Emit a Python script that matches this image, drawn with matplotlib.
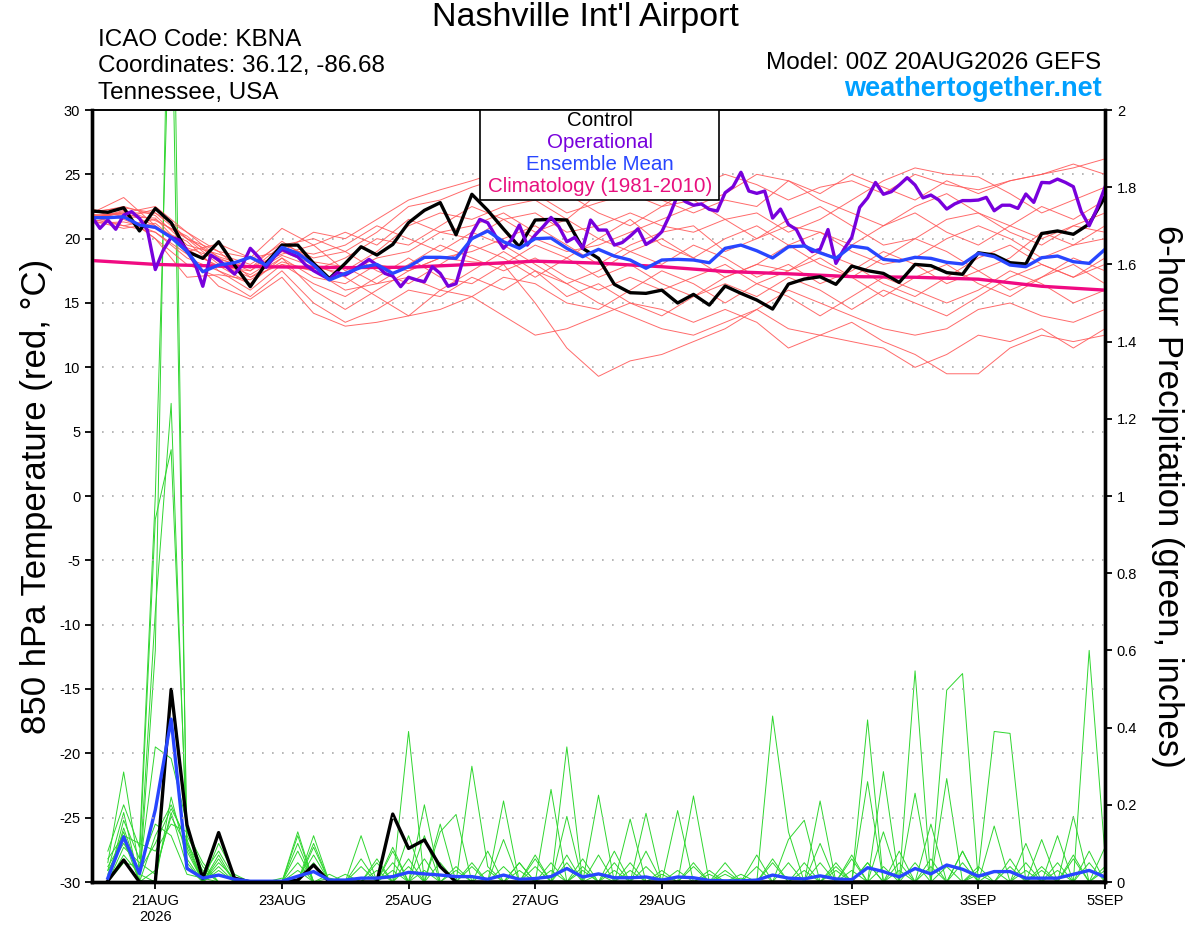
import numpy as np
import matplotlib.pyplot as plt
from matplotlib.patches import Rectangle

plt.rcParams['font.family'] = ['Liberation Sans', 'DejaVu Sans']
plt.rcParams['axes.unicode_minus'] = False

# ---- data (time in days from 20AUG2026 00Z) ----
tick_days = [1, 3, 5, 7, 9, 12, 14, 16]
tick_labels = ['21AUG\n2026', '23AUG', '25AUG', '27AUG', '29AUG', '1SEP', '3SEP', '5SEP']

# control run, 6-hourly 850 hPa temperature
ctrl_temp = [22.15, 22.05, 22.4, 20.6, 22.35, 21.25, 19.0, 18.47, 19.76, 17.95, 16.27, 18.08, 19.5,
             19.5, 18.08, 16.9, 18.08, 19.37, 18.73, 19.55, 21.24, 22.2, 22.8, 20.3, 23.45, 22.2,
             20.75, 19.37, 21.45, 21.5, 21.45, 19.25, 18.47, 16.45, 15.8, 15.75, 16.0, 15.0, 15.67,
             14.84, 16.32, 15.75, 15.23, 14.53, 16.47, 16.86, 17.04, 16.45, 17.87, 17.51, 17.3, 16.6,
             18.0, 17.9, 17.36, 17.23, 18.9, 18.73, 18.13, 18.03, 20.4, 20.6, 20.34, 21.14, 23.26]

# ensemble mean, 6-hourly
mean_temp = [21.63, 21.63, 21.7, 21.06, 20.88, 20.1, 19.0, 17.43, 17.95, 18.13, 18.55, 17.95, 19.32,
             18.86, 17.95, 16.79, 17.3, 17.77, 18.0, 17.3, 17.82, 18.55, 18.55, 18.47, 20.0, 20.6,
             19.76, 19.25, 20.0, 20.05, 19.25, 18.6, 19.17, 18.65, 18.34, 17.7, 18.34, 18.39, 18.34,
             18.13, 19.25, 19.5, 19.06, 18.5, 19.37, 19.43, 18.9, 18.47, 19.43, 19.25, 18.39, 18.26,
             18.55, 18.47, 18.16, 18.03, 18.86, 18.6, 17.95, 17.82, 18.52, 18.65, 18.21, 18.08, 19.17]

# operational run, 3-hourly
oper_temp = [21.7, 20.8, 21.45, 20.73, 21.83, 22.1, 21.57, 20.67, 17.6, 19.1, 20.1, 19.9, 19.1,
             18.08, 16.3, 18.73, 18.34, 17.82, 17.25, 17.95, 19.25, 18.6, 17.77, 18.55, 19.17, 18.86,
             18.6, 17.95, 17.51, 17.17, 16.84, 17.36, 17.17, 17.51, 17.95, 18.39, 17.95, 17.3, 17.1,
             16.27, 17.0, 16.8, 16.65, 17.82, 17.3, 16.3, 16.5, 18.6, 20.4, 21.5, 21.24, 20.2, 19.25,
             19.9, 21.06, 19.5, 20.28, 20.93, 21.65, 20.93, 19.76, 20.1, 19.25, 21.45, 20.67, 20.67,
             19.5, 19.7, 20.2, 20.77, 19.55, 19.94, 20.54, 21.83, 23.39, 22.87, 22.6, 22.7, 22.28,
             22.15, 23.57, 24.04, 25.16, 23.7, 23.52, 23.7, 21.6, 22.3, 21.1, 20.71, 19.5, 18.99,
             19.17, 20.71, 18.08, 19.17, 20.1, 22.43, 23.17, 24.37, 23.45, 23.65, 24.17, 24.74, 24.17,
             23.17, 23.39, 23.0, 22.3, 22.7, 22.96, 22.96, 23.0, 23.21, 22.17, 22.6, 22.6, 22.35,
             23.47, 22.82, 24.37, 24.34, 24.63, 24.37, 24.04, 22.1, 21.0, 22.35, 24.0]

# climatology, daily
clim_temp = [18.3, 18.0, 17.87, 17.8, 17.75, 17.78, 18.0, 18.25, 18.1, 17.82, 17.45, 17.27, 17.05,
             17.0, 16.85, 16.3, 16.0]

# ensemble members, 12-hourly
members_temp = [
    [22.0, 22.5, 21.8, 19.5, 18.8, 18.0, 19.6, 18.5, 19.0, 20.5, 22.5, 23.0, 24.0, 24.8, 23.5, 22.0, 22.8,
     23.5, 22.5, 24.0, 25.0, 24.2, 23.0, 24.0, 24.5, 23.5, 25.0, 24.2, 23.8, 24.5, 25.0, 25.5, 26.2],
    [22.2, 21.5, 20.5, 18.5, 17.5, 16.5, 18.5, 17.0, 16.5, 18.0, 17.5, 18.5, 18.2, 18.0, 15.0, 11.5, 9.3,
     10.5, 11.0, 12.0, 13.0, 14.5, 16.0, 15.0, 14.0, 13.0, 12.5, 13.0, 14.5, 15.0, 14.0, 13.5, 14.5],
    [21.5, 21.0, 21.5, 20.0, 18.0, 17.0, 18.5, 16.0, 14.5, 16.0, 17.5, 18.5, 19.0, 20.0, 21.0, 19.5, 18.0,
     19.5, 20.5, 21.0, 19.0, 20.0, 21.5, 22.5, 21.0, 19.5, 20.0, 21.5, 22.0, 21.0, 20.0, 21.0, 22.0],
    [21.8, 22.0, 22.5, 20.5, 19.0, 18.5, 19.0, 20.5, 20.0, 21.5, 23.0, 23.8, 24.5, 25.3, 24.5, 23.5, 22.0,
     21.0, 22.5, 23.0, 21.5, 22.0, 20.5, 21.5, 23.0, 24.5, 25.5, 25.0, 24.8, 23.5, 22.0, 23.0, 24.0],
    [21.3, 21.8, 20.0, 18.0, 17.0, 15.5, 17.5, 15.0, 13.5, 14.5, 16.0, 15.5, 17.0, 16.0, 17.5, 16.5, 15.0,
     14.0, 13.0, 12.5, 13.5, 14.5, 13.0, 12.5, 13.5, 12.0, 11.0, 9.5, 9.5, 11.5, 12.5, 12.0, 12.5],
    [22.0, 23.2, 21.0, 19.0, 19.6, 18.5, 20.8, 19.5, 17.5, 19.0, 21.0, 22.0, 21.5, 22.5, 23.0, 21.5, 20.0,
     21.5, 19.5, 18.5, 20.0, 21.0, 19.5, 18.0, 17.0, 18.5, 20.0, 19.0, 17.5, 18.5, 20.5, 19.5, 21.0],
    [21.6, 22.0, 22.0, 20.5, 18.5, 17.5, 19.0, 18.0, 17.0, 15.5, 14.0, 14.5, 15.5, 17.0, 16.5, 15.0, 14.5,
     16.0, 17.5, 16.5, 15.0, 16.5, 15.5, 14.0, 15.5, 17.0, 16.0, 15.0, 16.0, 17.5, 16.5, 15.0, 16.0],
    [21.2, 21.3, 20.8, 19.8, 17.5, 16.0, 18.0, 17.5, 18.5, 20.0, 19.5, 21.0, 22.5, 21.5, 20.0, 19.0, 19.5,
     20.5, 21.5, 22.5, 23.5, 25.0, 24.5, 23.0, 22.0, 21.0, 22.5, 23.5, 22.0, 20.5, 19.5, 21.0, 20.5],
    [21.9, 21.6, 22.3, 20.0, 19.0, 17.0, 18.0, 16.5, 15.5, 17.0, 18.5, 17.0, 16.5, 18.0, 19.5, 18.5, 17.0,
     18.0, 16.5, 15.5, 17.0, 18.0, 17.5, 19.0, 18.0, 16.5, 15.5, 17.0, 18.5, 19.5, 18.0, 17.0, 18.0],
    [21.4, 20.8, 21.2, 19.2, 17.8, 17.5, 19.5, 20.0, 19.0, 17.5, 16.5, 18.0, 19.5, 18.5, 17.0, 18.5, 20.0,
     19.0, 18.0, 19.5, 18.5, 17.0, 18.0, 16.5, 17.5, 19.0, 18.0, 16.5, 17.5, 16.0, 17.0, 18.5, 17.5],
    [22.1, 22.4, 22.0, 20.0, 18.6, 17.8, 18.8, 19.5, 20.5, 19.5, 21.5, 20.5, 21.0, 22.0, 20.5, 21.5, 23.5,
     24.0, 23.0, 22.0, 23.0, 22.5, 24.5, 23.5, 25.0, 24.0, 23.0, 24.5, 23.5, 24.5, 25.0, 25.8, 25.0],
    [21.7, 21.0, 20.5, 18.8, 16.3, 15.3, 17.0, 14.2, 13.2, 13.5, 14.0, 16.0, 15.5, 14.0, 12.5, 13.0, 14.0,
     15.0, 14.5, 13.5, 14.5, 13.5, 11.5, 12.5, 12.0, 11.5, 10.0, 11.0, 12.5, 12.0, 13.0, 11.5, 13.0],
    [21.5, 22.2, 21.4, 20.2, 18.2, 17.2, 18.7, 17.8, 17.3, 18.5, 19.0, 20.5, 20.0, 21.5, 22.0, 20.5, 21.0,
     22.0, 21.0, 20.5, 21.5, 20.0, 21.0, 20.5, 19.5, 21.0, 22.0, 20.5, 19.5, 21.0, 22.5, 21.5, 23.0],
    [21.8, 21.9, 20.0, 17.0, 17.2, 16.8, 18.2, 17.5, 16.0, 16.5, 18.0, 19.5, 18.5, 17.5, 18.5, 17.0, 16.0,
     17.0, 16.0, 17.0, 18.0, 16.5, 17.5, 18.5, 17.0, 15.5, 17.0, 18.0, 16.5, 15.5, 17.0, 18.0, 16.5],
    [22.3, 21.7, 21.6, 19.0, 17.9, 16.5, 19.2, 18.8, 19.5, 21.0, 20.0, 19.0, 20.5, 19.5, 18.0, 16.5, 17.5,
     19.0, 20.0, 18.5, 17.0, 18.0, 19.5, 20.5, 19.0, 18.0, 18.5, 20.0, 21.0, 20.0, 18.5, 19.5, 20.0],
    [21.6, 22.1, 21.0, 19.3, 18.4, 17.7, 19.8, 18.2, 17.8, 16.5, 17.0, 16.0, 17.5, 19.0, 17.5, 15.5, 16.5,
     15.0, 14.0, 15.5, 16.5, 15.5, 17.0, 16.0, 14.5, 16.0, 15.0, 14.0, 15.5, 17.0, 18.0, 17.0, 18.5],
]

# 6-hour precipitation (inches), valid 20AUG 06Z .. 5SEP 00Z
ctrl_precip = [0.003, 0.057, 0, 0, 0.499, 0.148, 0.009, 0.128, 0.01, 0, 0, 0, 0.005, 0.044, 0, 0,
               0, 0, 0.176, 0.087, 0.109, 0.04, 0, 0, 0, 0, 0, 0, 0, 0, 0, 0,
               0, 0, 0, 0, 0, 0, 0, 0, 0, 0, 0, 0, 0, 0, 0, 0,
               0, 0, 0, 0, 0, 0, 0, 0, 0, 0, 0, 0, 0, 0, 0, 0]

mean_precip = [0.01, 0.117, 0.022, 0.187, 0.422, 0.035, 0.01, 0.018, 0.007, 0.002, 0.002, 0.002,
               0.015, 0.027, 0.005, 0.005, 0.01, 0.01, 0.014, 0.025, 0.021, 0.018, 0.014, 0.014,
               0.007, 0.018, 0.007, 0.009, 0.014, 0.035, 0.013, 0.021, 0.011, 0.011, 0.013, 0.005,
               0.013, 0.011, 0.004, 0.003, 0.003, 0.005, 0.018, 0.01, 0.008, 0.016, 0.008, 0.006,
               0.037, 0.027, 0.013, 0.035, 0.021, 0.044, 0.033, 0.015, 0.027, 0.027, 0.01, 0.01,
               0.01, 0.02, 0.03, 0.013]

members_precip = [
    [.05, .285, .03, .35, .32, .15, .02, .08, .01, 0, 0, 0, .12, 0, 0, 0, 0, 0, .09, 0, 0, 0, .04, 0,
     .08, 0, 0, 0, .05, 0, 0, .02, 0, 0, 0, .02, 0, 0, .02, 0, 0, 0, .43, .13, 0, 0, 0, .03,
     0, .04, 0, 0, .06, 0, 0, 0, .03, 0, 0, 0, .12, 0, 0, 0],
    [.08, .2, .09, 1.0, 2.4, .1, 0, 0, 0, 0, 0, 0, .1, 0, .01, 0, 0, .06, 0, 0, .2, 0, 0, 0,
     0, 0, 0, .04, 0, .05, 0, 0, 0, .163, 0, 0, 0, 0, 0, .02, 0, 0, 0, 0, .05, 0, 0, 0,
     .05, 0, 0, .547, 0, 0, 0, .02, 0, 0, 0, .04, 0, 0, 0, .09],
    [.03, .18, 0, .6, 2.8, .05, 0, .06, 0, 0, 0, .01, 0, .12, 0, 0, 0, 0, .08, 0, 0, .15, 0, 0,
     0, .11, 0, 0, 0, 0, .04, 0, .03, 0, 0, 0, 0, .05, 0, 0, 0, 0, .06, 0, 0, 0, .05, 0,
     0, 0, .05, 0, 0, .497, .54, 0, 0, 0, .03, 0, 0, 0, .08, 0],
    [0, .16, .06, .94, 1.12, .12, .04, 0, 0, 0, 0, 0, .13, 0, 0, .02, 0, 0, 0, .39, 0, 0, 0, 0,
     .03, 0, 0, 0, 0, .17, 0, 0, 0, 0, .178, 0, 0, 0, 0, 0, .01, 0, 0, 0, 0, .05, 0, 0,
     0, .13, 0, 0, 0, 0, .08, 0, 0, 0, 0, .03, 0, 0, 0, .04],
    [0, .14, .02, .7, 1.24, .08, 0, .1, .02, 0, 0, 0, 0, .1, 0, 0, 0, 0, .05, 0, .12, 0, 0, 0,
     0, 0, .05, 0, 0, 0, 0, .225, 0, 0, 0, 0, .185, 0, 0, 0, 0, 0, 0, .11, .16, 0, 0, 0,
     0, 0, 0, .23, 0, 0, 0, .04, 0, 0, 0, 0, .05, 0, 0, 0],
    [.04, .11, 0, .12, .2, .1, .03, 0, 0, 0, 0, 0, .08, 0, .02, 0, 0, 0, 0, .12, 0, 0, 0, .3,
     .04, 0, 0, 0, .24, 0, 0, 0, .05, 0, 0, 0, 0, 0, 0, .05, 0, 0, 0, 0, 0, .21, 0, 0,
     0, 0, .08, 0, 0, .04, 0, 0, .145, 0, 0, 0, 0, .07, 0, 0],
    [0, .09, .05, .02, .18, .04, 0, .04, 0, 0, 0, 0, 0, .07, 0, 0, 0, 0, .03, 0, 0, .13, .175, 0,
     0, 0, .03, 0, 0, .07, 0, 0, 0, .05, 0, 0, 0, .04, 0, 0, 0, .07, 0, 0, 0, 0, .03, 0,
     .42, 0, 0, 0, 0, 0, .08, 0, 0, 0, 0, .11, 0, 0, .05, 0],
    [.06, .12, .1, .08, .15, .13, .05, 0, 0, 0, 0, 0, .05, 0, 0, 0, .12, 0, 0, .04, 0, 0, 0, .05,
     0, 0, 0, .07, 0, 0, 0, .07, 0, 0, 0, .03, 0, 0, 0, 0, .02, 0, 0, 0, .03, 0, 0, 0,
     .26, 0, 0, 0, .04, 0, 0, 0, 0, .06, 0, 0, .03, 0, 0, 0],
    [0, .07, .02, 0, .22, .06, 0, .05, .01, 0, 0, 0, 0, .05, 0, 0, 0, .03, 0, 0, .06, 0, 0, 0,
     0, .21, 0, 0, 0, 0, .03, 0, 0, 0, .08, 0, 0, 0, .03, 0, 0, 0, .05, 0, 0, 0, 0, .07,
     0, 0, 0, .05, 0, 0, 0, .03, .39, .385, 0, 0, 0, 0, 0, .03],
    [0, .05, .04, .15, .12, .02, .01, 0, 0, 0, 0, 0, .03, 0, 0, 0, .06, 0, 0, 0, .03, 0, 0, .04,
     0, 0, .05, 0, .03, 0, 0, 0, .08, 0, 0, 0, .03, 0, 0, 0, 0, .04, 0, 0, 0, .1, 0, 0,
     .05, 0, 0, 0, .15, 0, 0, 0, 0, 0, .1, 0, 0, .06, 0, 0],
    [.02, .13, 0, .03, .17, .09, 0, .07, 0, 0, 0, 0, 0, .09, 0, 0, 0, .05, 0, 0, 0, .05, 0, 0,
     0, .04, 0, 0, 0, .35, 0, 0, 0, 0, .04, 0, 0, 0, 0, .03, 0, 0, 0, 0, 0, 0, .04, 0,
     0, .286, 0, 0, 0, 0, .05, 0, 0, .04, 0, 0, 0, 0, .6, .07],
    [.03, .1, .03, .1, .19, .11, 0, .03, 0, 0, 0, 0, 0, 0, 0, 0, .04, 0, 0, .06, 0, 0, .03, 0,
     0, 0, 0, .06, 0, 0, .06, 0, 0, .03, 0, 0, 0, .223, 0, 0, 0, 0, 0, .05, 0, 0, 0, .06,
     0, 0, .03, 0, 0, .268, 0, 0, 0, 0, .05, 0, 0, .17, 0, 0],
]

# time axes
t6 = np.arange(len(ctrl_temp)) * 0.25
t3 = np.arange(len(oper_temp)) * 0.125
t12 = np.arange(len(members_temp[0])) * 0.5
tday = np.arange(len(clim_temp))
tp = (np.arange(len(ctrl_precip)) + 1) * 0.25

fig = plt.figure(figsize=(12, 9.27), dpi=100)
ax = fig.add_axes([92 / 1200, 1 - 882 / 927, 1013 / 1200, 772 / 927])
ax2 = ax.twinx()

# precip axis underneath the temperature lines
ax.set_zorder(ax2.get_zorder() + 1)
ax.patch.set_visible(False)

for m in members_precip:
    ax2.plot(tp, m, color='#2fd62f', lw=0.7)
ax2.plot(tp, ctrl_precip, color='black', lw=2.4)
ax2.plot(tp, mean_precip, color='#2846ff', lw=2.4)

for m in members_temp:
    ax.plot(t12, m, color='#ff5a5a', lw=0.7, alpha=0.9)
ax.plot(tday, clim_temp, color='#f00a82', lw=2.4)
ax.plot(t6, ctrl_temp, color='black', lw=2.4)
ax.plot(t3, oper_temp, color='#7800dc', lw=2.4)
ax.plot(t6, mean_temp, color='#2846ff', lw=2.4)

ax.set_xlim(0, 16)
ax.set_ylim(-30, 30)
ax2.set_ylim(0, 2)
ax.set_yticks(np.arange(-30, 31, 5))
ax2.set_yticks(np.arange(0, 2.01, 0.2))
ax2.set_yticklabels(['%g' % v for v in np.round(np.arange(0, 2.01, 0.2), 1)])
ax.set_xticks(tick_days)
ax.set_xticklabels(tick_labels)

for y in range(-25, 30, 5):
    ax.axhline(y, color='#aaaaaa', lw=1.2, ls=(0, (1, 5)), zorder=0)

ax.tick_params(axis='both', labelsize=10.5, length=5, width=1.3, direction='out')
ax2.tick_params(axis='y', labelsize=10.5, length=5, width=1.3, direction='out')
for a in (ax, ax2):
    a.spines['left'].set_linewidth(2.4)
    a.spines['bottom'].set_linewidth(2.4)
    a.spines['right'].set_linewidth(2.4)
    a.spines['top'].set_linewidth(1.2)

ax.set_ylabel('850 hPa Temperature (red, \u00b0C)', fontsize=25, labelpad=4)
ax2.set_ylabel('6-hour Precipitation (green, inches)', fontsize=25, rotation=-90, labelpad=34)

# legend box
ax.add_patch(Rectangle((0.383, 0.883), 0.236, 0.117, transform=ax.transAxes,
                       facecolor='white', edgecolor='black', lw=1.2, zorder=10))
leg = [('Control', 'black', 0.986), ('Operational', '#7800dc', 0.958),
       ('Ensemble Mean', '#2846ff', 0.930), ('Climatology (1981-2010)', '#e8107e', 0.901)]
for txt, c, yy in leg:
    ax.text(0.5015, yy, txt, color=c, fontsize=14.8, ha='center', va='center',
            transform=ax.transAxes, zorder=11)

# header text
fig.text(0.4875, 0.981, "Nashville Int'l Airport", fontsize=24.5, ha='center', va='center')
fig.text(98 / 1200, 1 - 40 / 927, 'ICAO Code: KBNA', fontsize=17.5, va='center')
fig.text(98 / 1200, 1 - 66 / 927, 'Coordinates: 36.12, -86.68', fontsize=17.5, va='center')
fig.text(98 / 1200, 1 - 93 / 927, 'Tennessee, USA', fontsize=17.5, va='center')
fig.text(1101 / 1200, 1 - 63 / 927, 'Model: 00Z 20AUG2026 GEFS', fontsize=17.5, ha='right', va='center')
fig.text(1102 / 1200, 1 - 89 / 927, 'weathertogether.net', fontsize=19.5, ha='right', va='center',
         color='#00a0ff', fontweight='bold')

fig.savefig('out.png', dpi=100)
